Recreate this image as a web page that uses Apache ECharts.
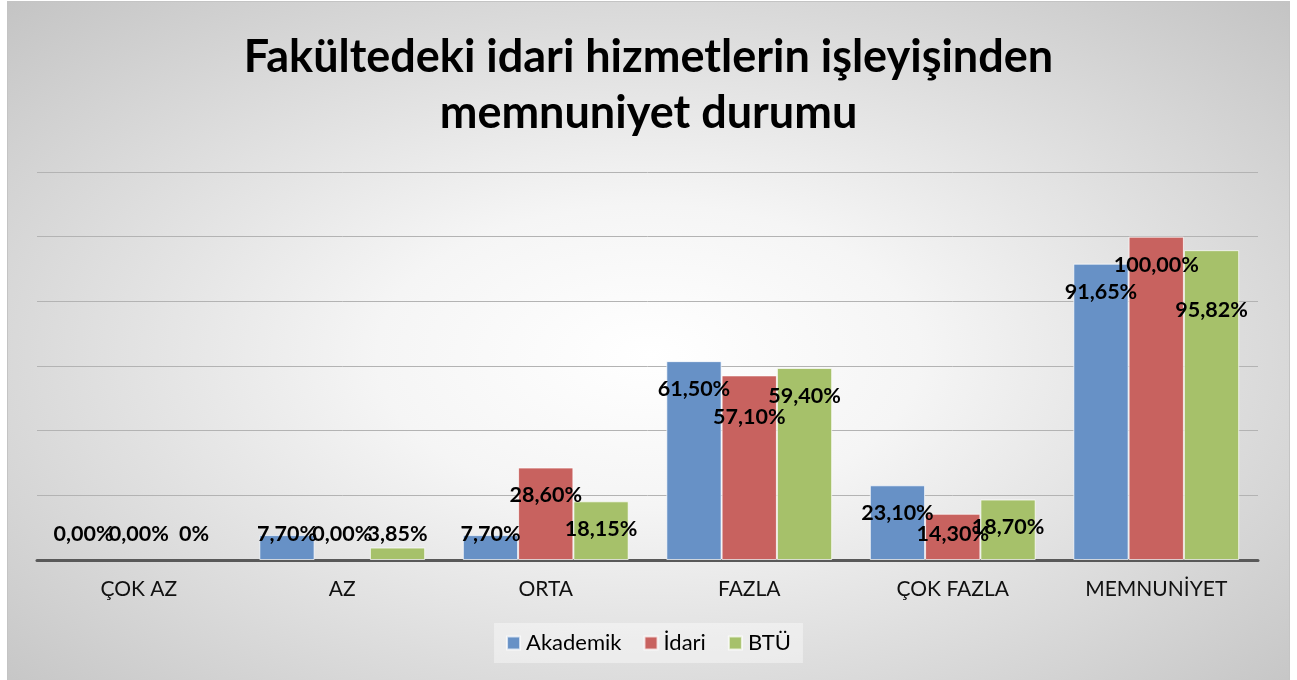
<!DOCTYPE html>
<html>
<head>
<meta charset="utf-8">
<script src="https://cdn.jsdelivr.net/npm/echarts@6/dist/echarts.min.js"></script>
<style>
  html, body { margin: 0; padding: 0; background: #fff; overflow: hidden; }
  #chart {
    position: absolute; left: 7px; top: 1px;
    width: 1281px; height: 679px;
    border: 1px solid #c4c4c4; border-bottom: none;
    background: radial-gradient(ellipse farthest-corner at 50% 52%, #ffffff 0%, #f5f5f5 30%, #c4c4c4 100%);
  }
</style>
</head>
<body>
<div id="chart"></div>
<script>
// kategoriler ve seriler
const categories = ['ÇOK AZ', 'AZ', 'ORTA', 'FAZLA', 'ÇOK FAZLA', 'MEMNUNİYET'];
const akademik = [0, 7.70, 7.70, 61.50, 23.10, 91.65];
const idari = [0, 0, 28.60, 57.10, 14.30, 100.00];
const btu = [0, 3.85, 18.15, 59.40, 18.70, 95.82];
const seriesNames = ['Akademik', 'İdari', 'BTÜ'];
const colors = ['#6791c6', '#c8625f', '#a6c16a'];

// y ekseni 0-120, adim 20 (etiketler gizli)
const yMin = 0, yMax = 120, yStep = 20;

function fmt(v) {
  return v.toFixed(2).replace('.', ',') + '%';
}

// etiket kaydirmalari (orijinal grafikte elle tasinmis olanlar)
const nudges = { '1-3': 14, '2-5': 32 };

function buildData(values, si) {
  return values.map(function (v, i) {
    let text = fmt(v);
    if (si === 2 && v === 0) text = '0%';
    let label;
    if (v >= 17) {
      label = { position: 'insideTop', distance: 17 };
    } else {
      label = { position: 'insideBottom', distance: 15 };
    }
    const dy = nudges[si + '-' + i];
    if (dy) label.offset = [0, dy];
    label.formatter = text;
    let item = { value: v, label: label };
    if (v === 0) item.itemStyle = { borderWidth: 0 };
    return item;
  });
}

let chartDom = document.getElementById('chart');
let myChart = echarts.init(chartDom);
let option;

option = {
  backgroundColor: 'transparent',
  animation: false,
  title: {
    text: 'Fakültedeki idari hizmetlerin işleyişinden\nmemnuniyet durumu',
    left: 'center',
    top: 22,
    textStyle: {
      fontFamily: 'Lato',
      fontWeight: 'bold',
      fontSize: 45,
      lineHeight: 56,
      color: '#000'
    }
  },
  legend: {
    bottom: 18,
    left: 'center',
    icon: 'rect',
    itemWidth: 13,
    itemHeight: 13,
    itemGap: 22,
    padding: [9, 12],
    backgroundColor: 'rgba(255,255,255,0.4)',
    textStyle: { fontFamily: 'Lato', fontSize: 22, color: '#000', padding: [0, 0, 0, 1] },
    data: seriesNames
  },
  grid: {
    left: 29,
    right: 31,
    top: 170,
    bottom: 121,
    containLabel: false
  },
  xAxis: {
    type: 'category',
    data: categories,
    axisLine: { lineStyle: { color: '#595959', width: 3 } },
    axisTick: { show: false },
    axisLabel: {
      fontFamily: 'Lato',
      fontSize: 21,
      color: '#111',
      margin: 19
    }
  },
  yAxis: {
    type: 'value',
    min: yMin,
    max: yMax,
    interval: yStep,
    axisLabel: { show: false },
    axisLine: { show: false },
    axisTick: { show: false },
    splitLine: { lineStyle: { color: '#b3b3b3', width: 1 } }
  },
  series: [akademik, idari, btu].map(function (vals, si) {
    return {
      name: seriesNames[si],
      type: 'bar',
      data: buildData(vals, si),
      barGap: '0%',
      barCategoryGap: '18.5%',
      itemStyle: {
        color: colors[si],
        borderColor: 'rgba(255,255,255,0.7)',
        borderWidth: 1
      },
      label: {
        show: true,
        fontFamily: 'Lato',
        fontWeight: 'bold',
        fontSize: 21.5,
        lineHeight: 22,
        color: '#000'
      }
    };
  })
};
option && myChart.setOption(option);
</script>
</body>
</html>
